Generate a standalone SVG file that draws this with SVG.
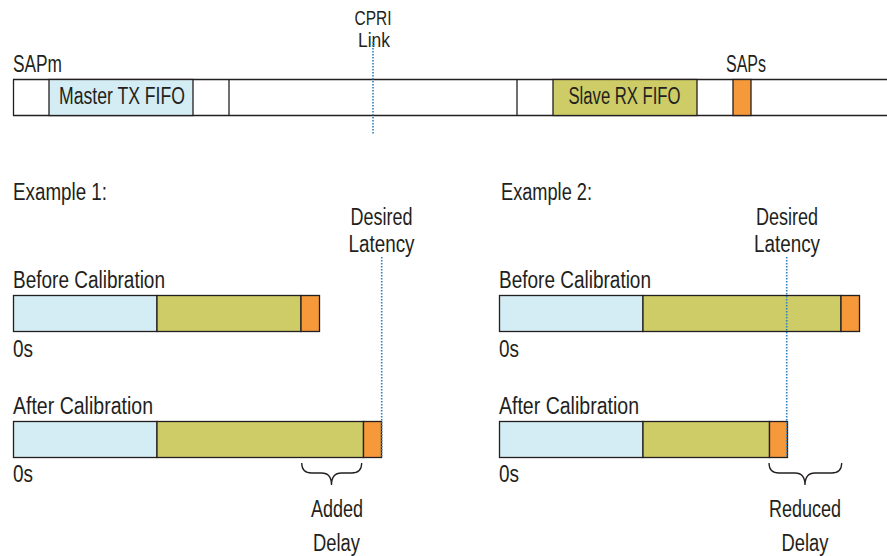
<svg xmlns="http://www.w3.org/2000/svg" width="887" height="556" viewBox="0 0 887 556">
<style>
text{font-family:"Liberation Sans",Arial,sans-serif;font-size:23px;fill:#231f20}
.m{text-anchor:middle}
.sm{font-size:19.5px}
.blue{fill:#d4ecf3;stroke:#231f20;stroke-width:1.3}
.yel{fill:#cdcc66;stroke:#231f20;stroke-width:1.3}
.org{fill:#f5993a;stroke:#231f20;stroke-width:1.3}
.ln{stroke:#231f20;stroke-width:1.3;fill:none}
.dot{stroke:#2f7fb8;stroke-width:1.6;stroke-dasharray:1.4 1.6;fill:none}
.brace{stroke:#231f20;stroke-width:1.3;fill:none}
</style>
<rect width="887" height="556" fill="#fff"/>

<g id="top-bar">
  <line class="ln" x1="13" y1="79.5" x2="887" y2="79.5"/>
  <line class="ln" x1="13" y1="115.5" x2="887" y2="115.5"/>
  <line class="ln" x1="13.5" y1="79.5" x2="13.5" y2="115.5"/>
  <line class="ln" x1="229" y1="79.5" x2="229" y2="115.5"/>
  <line class="ln" x1="517" y1="79.5" x2="517" y2="115.5"/>
  <text x="13" y="72" textLength="49" lengthAdjust="spacingAndGlyphs">SAPm</text>
  <text class="m" x="746" y="72" textLength="40" lengthAdjust="spacingAndGlyphs">SAPs</text>
</g>
<g id="master-tx-fifo">
  <rect class="blue" x="49" y="79.5" width="144" height="36"/>
  <text class="m" x="122" y="104" textLength="126" lengthAdjust="spacingAndGlyphs">Master TX FIFO</text>
</g>
<g id="slave-rx-fifo">
  <rect class="yel" x="553" y="79.5" width="144" height="36"/>
  <text class="m" x="624.5" y="104" textLength="112" lengthAdjust="spacingAndGlyphs">Slave RX FIFO</text>
</g>
<g id="saps-block">
  <rect class="org" x="733" y="79.5" width="18" height="36"/>
</g>
<g id="cpri-link">
  <text class="m sm" x="373" y="25" textLength="37" lengthAdjust="spacingAndGlyphs">CPRI</text>
  <text class="m sm" x="374" y="47" textLength="32" lengthAdjust="spacingAndGlyphs">Link</text>
</g>

<g id="example1">
  <text x="13" y="200" textLength="94" lengthAdjust="spacingAndGlyphs">Example 1:</text>
  <text class="m" x="381.5" y="225" textLength="62" lengthAdjust="spacingAndGlyphs">Desired</text>
  <text class="m" x="381.5" y="252" textLength="66" lengthAdjust="spacingAndGlyphs">Latency</text>
  <text x="13" y="288" textLength="152" lengthAdjust="spacingAndGlyphs">Before Calibration</text>
  <text x="13" y="357" textLength="20" lengthAdjust="spacingAndGlyphs">0s</text>
  <text x="13" y="414" textLength="140" lengthAdjust="spacingAndGlyphs">After Calibration</text>
  <text x="13" y="482" textLength="20" lengthAdjust="spacingAndGlyphs">0s</text>
  <text class="m" x="337" y="517" textLength="52" lengthAdjust="spacingAndGlyphs">Added</text>
  <text class="m" x="336.5" y="551" textLength="47" lengthAdjust="spacingAndGlyphs">Delay</text>
</g>
<g id="ex1-before-bar">
  <rect class="blue" x="13.5" y="295.5" width="143.5" height="36"/>
  <rect class="yel" x="157" y="295.5" width="144" height="36"/>
  <rect class="org" x="301" y="295.5" width="18.5" height="36"/>
</g>
<g id="ex1-after-bar">
  <rect class="blue" x="13.5" y="421.5" width="143.5" height="36"/>
  <rect class="yel" x="157" y="421.5" width="206.5" height="36"/>
  <rect class="org" x="363.5" y="421.5" width="18" height="36"/>
</g>

<g id="example2">
  <text x="501" y="200" textLength="91" lengthAdjust="spacingAndGlyphs">Example 2:</text>
  <text class="m" x="787" y="225" textLength="62" lengthAdjust="spacingAndGlyphs">Desired</text>
  <text class="m" x="787" y="252" textLength="66" lengthAdjust="spacingAndGlyphs">Latency</text>
  <text x="499" y="288" textLength="152" lengthAdjust="spacingAndGlyphs">Before Calibration</text>
  <text x="499" y="357" textLength="20" lengthAdjust="spacingAndGlyphs">0s</text>
  <text x="499" y="414" textLength="140" lengthAdjust="spacingAndGlyphs">After Calibration</text>
  <text x="499" y="482" textLength="20" lengthAdjust="spacingAndGlyphs">0s</text>
  <text class="m" x="805" y="517" textLength="72" lengthAdjust="spacingAndGlyphs">Reduced</text>
  <text class="m" x="805" y="551" textLength="47" lengthAdjust="spacingAndGlyphs">Delay</text>
</g>
<g id="ex2-before-bar">
  <rect class="blue" x="499.5" y="295.5" width="143.5" height="36"/>
  <rect class="yel" x="643" y="295.5" width="198" height="36"/>
  <rect class="org" x="841" y="295.5" width="18.5" height="36"/>
</g>
<g id="ex2-after-bar">
  <rect class="blue" x="499.5" y="421.5" width="143.5" height="36"/>
  <rect class="yel" x="643" y="421.5" width="126.5" height="36"/>
  <rect class="org" x="769.5" y="421.5" width="18" height="36"/>
</g>

<g id="connectors">
  <line class="dot" x1="373" y1="42" x2="373" y2="134"/>
  <line class="dot" x1="381.7" y1="257" x2="381.7" y2="458"/>
  <line class="dot" x1="786.7" y1="257" x2="786.7" y2="458"/>
  <path class="brace" d="M301.7,463 Q301.7,473 311.7,473 L321.5,473 Q331.5,473 331.5,485 Q331.5,473 341.5,473 L351.7,473 Q361.7,473 361.7,463"/>
  <path class="brace" d="M769,463 Q769,473 779,473 L795,473 Q805,473 805,485 Q805,473 815,473 L831.7,473 Q841.7,473 841.7,463"/>
</g>
</svg>
